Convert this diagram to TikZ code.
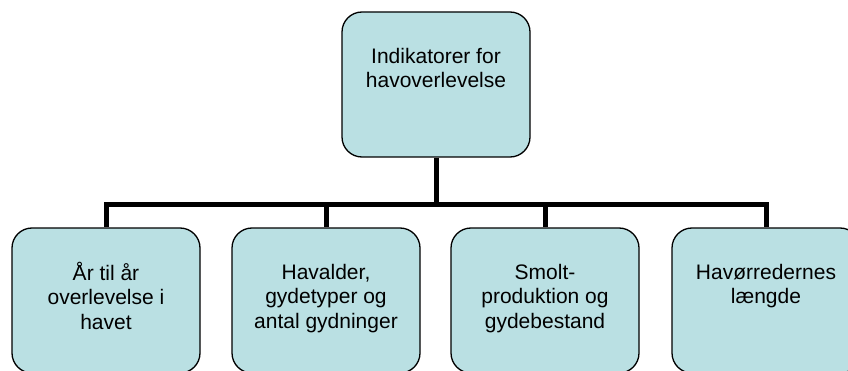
\documentclass[tikz,border=0pt]{standalone}
\usepackage{fontspec}
\setmainfont{Liberation Sans}
\usetikzlibrary{positioning}

\definecolor{boxfill}{RGB}{186,224,227}
% text sits in the upper part of each box
\newcommand{\boxtext}[1]{\parbox[c][145pt][t]{184pt}{\vspace*{34pt}\centering\fontsize{21}{24.5}\selectfont\strut #1}}

\begin{document}
\begin{tikzpicture}[x=1pt, y=1pt,
    indbox/.style={rectangle, draw=black, line width=1.3pt, fill=boxfill, rounded corners=20pt, inner sep=0pt, minimum width=188pt, minimum height=145pt},
    conn/.style={line width=5pt, line join=miter}]
        \useasboundingbox (0, 0) rectangle (848, 370);
        \node[indbox] (top) at (436, 285.5) {\boxtext{Indikatorer for\\havoverlevelse}};

        \node[indbox] (aar) at (106, 69.5) {\boxtext{År til år\\overlevelse i\\havet}};
        \node[indbox] (havalder) at (326, 69.5) {\boxtext{Havalder,\\gydetyper og\\antal gydninger}};
        \node[indbox] (smolt) at (545, 69.5) {\boxtext{Smolt-\\produktion og\\gydebestand}};
        \node[indbox] (laengde) at (766, 69.5) {\boxtext{Havørredernes\\længde}};

        \coordinate (bus) at (436, 165.5);
        \draw[conn] (top.south) -- (bus);
        \foreach \n in {aar, havalder, smolt, laengde}
            \draw[conn] (bus) -| (\n.north);
    \end{tikzpicture}
\end{document}
